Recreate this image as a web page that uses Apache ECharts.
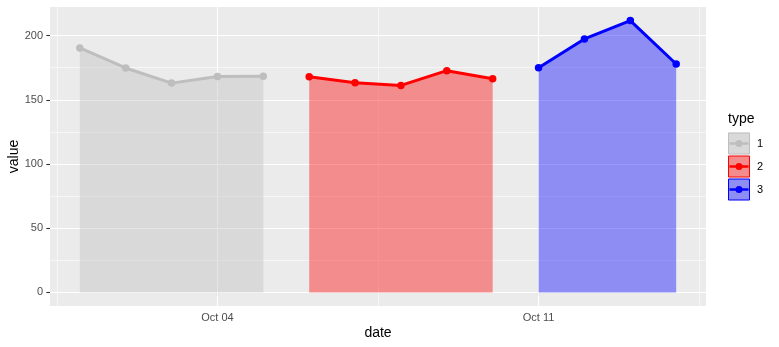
<!DOCTYPE html>
<html>
<head>
<meta charset="utf-8">
<script src="https://cdn.jsdelivr.net/npm/echarts@6/dist/echarts.min.js"></script>
<style>
html,body{margin:0;padding:0;background:#fff;}
#chart{width:779px;height:347px;}
</style>
</head>
<body>
<div id="chart"></div>
<script>
// ---- data ----
const typeNames = ['1', '2', '3'];
const dates1 = ['2023-10-01', '2023-10-02', '2023-10-03', '2023-10-04', '2023-10-05'];
const values1 = [190.4, 174.8, 163.0, 168.2, 168.3];
const dates2 = ['2023-10-06', '2023-10-07', '2023-10-08', '2023-10-09', '2023-10-10'];
const values2 = [168.0, 163.3, 161.2, 172.7, 166.4];
const dates3 = ['2023-10-11', '2023-10-12', '2023-10-13', '2023-10-14'];
const values3 = [175.0, 197.4, 211.7, 177.9];
const lineColors = ['#BEBEBE', '#FF0000', '#0000FF'];

const xTickDates = ['2023-10-04', '2023-10-11'];
const xTickLabels = ['Oct 04', 'Oct 11'];
const xMinorDates = ['2023-09-30T12:00:00Z', '2023-10-07T12:00:00Z', '2023-10-14T12:00:00Z'];
const yTicks = [0, 50, 100, 150, 200];
const yMinor = [25, 75, 125, 175];

// ---- helpers ----
const DAY = 86400000;
const toDay = s => Date.parse(s.length === 10 ? s + 'T00:00:00Z' : s) / DAY;
const fade = (hex, a) => {
  const r = parseInt(hex.slice(1, 3), 16), g = parseInt(hex.slice(3, 5), 16), b = parseInt(hex.slice(5, 7), 16);
  return 'rgba(' + r + ',' + g + ',' + b + ',' + a + ')';
};
const allDates = [dates1, dates2, dates3];
const allValues = [values1, values2, values3];
const xs = allDates.flat().map(toDay);
const ys = allValues.flat().concat([0]);
const xMinD = Math.min(...xs), xMaxD = Math.max(...xs);
const yMinD = Math.min(...ys), yMaxD = Math.max(...ys);
const xPad = (xMaxD - xMinD) * 0.05, yPad = (yMaxD - yMinD) * 0.05;

const xTickVals = xTickDates.map(toDay);
const xLabelMap = {};
xTickVals.forEach((v, i) => { xLabelMap[v] = xTickLabels[i]; });

const FONT = 'Liberation Sans';

const gridLineData = [];
xTickVals.forEach(v => gridLineData.push({ xAxis: v, lineStyle: { color: '#ffffff', width: 1.1, type: 'solid' } }));
xMinorDates.map(toDay).forEach(v => gridLineData.push({ xAxis: v, lineStyle: { color: '#ffffff', width: 0.55, type: 'solid' } }));
yTicks.forEach(v => gridLineData.push({ yAxis: v, lineStyle: { color: '#ffffff', width: 1.1, type: 'solid' } }));
yMinor.forEach(v => gridLineData.push({ yAxis: v, lineStyle: { color: '#ffffff', width: 0.55, type: 'solid' } }));

const series = [{
  type: 'line',
  name: '__grid',
  z: 1,
  silent: true,
  data: [[xs[0], values1[0]]],
  showSymbol: false,
  symbol: 'none',
  lineStyle: { opacity: 0 },
  markLine: {
    z: 1,
    silent: true,
    symbol: ['none', 'none'],
    label: { show: false },
    animation: false,
    data: gridLineData
  }
}];
allDates.forEach((ds, i) => {
  series.push({
    type: 'line',
    name: typeNames[i],
    z: 3,
    data: ds.map((d, j) => [toDay(d), allValues[i][j]]),
    symbol: 'circle',
    symbolSize: 7.5,
    showSymbol: true,
    itemStyle: { color: lineColors[i] },
    lineStyle: { color: lineColors[i], width: 3 },
    areaStyle: { color: lineColors[i], opacity: 0.4, origin: 'auto' },
    emphasis: { disabled: true },
    animation: false
  });
});

// legend (ggplot-style keys) built from names/colors
const legendGraphics = [{
  type: 'text', left: 728, top: 112,
  style: { text: 'type', font: '14px "' + FONT + '"', fill: '#000' }
}];
const keyTop = 132.5, keySize = 23, keyLeft = 728;
typeNames.forEach((n, i) => {
  const y0 = keyTop + i * keySize;
  legendGraphics.push({ type: 'rect', shape: { x: keyLeft, y: y0, width: keySize - 1, height: keySize - 1 }, style: { fill: '#EBEBEB' }, z: 10 });
  legendGraphics.push({ type: 'rect', shape: { x: keyLeft + 0.5, y: y0 + 0.5, width: keySize - 2, height: keySize - 2 }, style: { fill: fade(lineColors[i], 0.4), stroke: lineColors[i], lineWidth: 1 }, z: 11 });
  legendGraphics.push({ type: 'line', shape: { x1: keyLeft + 1.5, y1: y0 + keySize / 2 - 0.5, x2: keyLeft + keySize - 2.5, y2: y0 + keySize / 2 - 0.5 }, style: { stroke: lineColors[i], lineWidth: 2.5 }, z: 12 });
  legendGraphics.push({ type: 'circle', shape: { cx: keyLeft + keySize / 2 - 0.5, cy: y0 + keySize / 2 - 0.5, r: 3.5 }, style: { fill: lineColors[i] }, z: 13 });
  legendGraphics.push({ type: 'text', x: 757, y: y0 + keySize / 2 - 0.5, style: { text: n, font: '11px "' + FONT + '"', fill: '#000', verticalAlign: 'middle', align: 'left' }, z: 13 });
});

const chart = echarts.init(document.getElementById('chart'), null, { renderer: 'canvas' });
chart.setOption({
  animation: false,
  backgroundColor: '#ffffff',
  textStyle: { fontFamily: FONT },
  grid: { left: 50, right: 73, top: 7, bottom: 41, show: true, backgroundColor: '#EBEBEB', borderWidth: 0, containLabel: false, outerBoundsMode: 'none' },
  xAxis: {
    type: 'value',
    min: xMinD - xPad,
    max: xMaxD + xPad,
    name: 'date',
    nameLocation: 'middle',
    nameGap: 20,
    nameMoveOverlap: false,
    nameTextStyle: { fontFamily: FONT, fontSize: 14, color: '#000' },
    axisLine: { show: false },
    splitLine: { show: false },
    axisTick: { show: true, customValues: xTickVals, length: 3.7, lineStyle: { color: '#333333', width: 1.1 } },
    axisLabel: {
      customValues: xTickVals, margin: 6, fontFamily: FONT, fontSize: 11, color: '#4D4D4D',
      formatter: v => xLabelMap[v] || ''
    }
  },
  yAxis: {
    type: 'value',
    min: yMinD - yPad,
    max: yMaxD + yPad,
    name: 'value',
    nameLocation: 'middle',
    nameGap: 29,
    nameMoveOverlap: false,
    nameRotate: 90,
    nameTextStyle: { fontFamily: FONT, fontSize: 14, color: '#000' },
    axisLine: { show: false },
    splitLine: { show: false },
    axisTick: { show: true, customValues: yTicks, length: 3.7, lineStyle: { color: '#333333', width: 1.1 } },
    axisLabel: {
      customValues: yTicks, margin: 7, fontFamily: FONT, fontSize: 11, color: '#4D4D4D',
      formatter: v => String(v)
    }
  },
  graphic: legendGraphics,
  series: series
});
</script>
</body>
</html>
